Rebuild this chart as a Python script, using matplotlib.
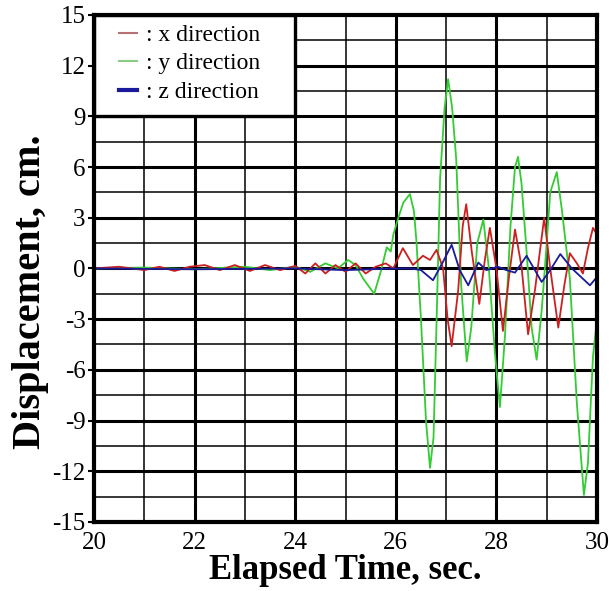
import numpy as np
import matplotlib
matplotlib.use("Agg")
import matplotlib.pyplot as plt
from matplotlib.patches import Rectangle

# values (time in sec, displacement in cm)
t_x = [20.0, 20.5, 21.0, 21.3, 21.6, 21.9, 22.2, 22.5, 22.8, 23.1, 23.4, 23.7,
       24.0, 24.2, 24.4, 24.6, 24.8, 25.0, 25.2, 25.4, 25.6, 25.8, 25.95, 26.14,
       26.34, 26.54, 26.68, 26.81, 26.94, 27.03, 27.11, 27.24, 27.33, 27.40,
       27.51, 27.66, 27.77, 27.87, 28.0, 28.13, 28.25, 28.37, 28.5, 28.63,
       28.77, 28.95, 29.07, 29.23, 29.35, 29.46, 29.6, 29.72, 29.82, 29.92, 30.0]
d_x = [0.0, 0.1, -0.1, 0.1, -0.15, 0.1, 0.2, -0.1, 0.2, -0.15, 0.2, -0.1,
       0.15, -0.3, 0.3, -0.3, 0.2, -0.2, 0.3, -0.3, 0.1, 0.3, 0.0, 1.2,
       0.2, 0.75, 0.5, 1.1, 0.0, -3.0, -4.6, -1.3, 2.5, 3.8,
       1.0, -2.1, 0.5, 2.4, 0.0, -3.7, -0.5, 2.3, 0.1, -3.9,
       -1.2, 3.0, 0.0, -3.5, -1.0, 0.9, 0.3, -0.3, 1.2, 2.4, 2.0]

t_y = [20.0, 21.0, 22.0, 23.0, 23.5, 24.0, 24.3, 24.6, 24.85, 25.05, 25.2,
       25.35, 25.57, 25.7, 25.82, 25.9, 25.95, 26.05, 26.15, 26.28, 26.36,
       26.41, 26.5, 26.6, 26.68, 26.75, 26.82, 26.88, 26.97, 27.04, 27.12,
       27.2, 27.3, 27.41, 27.5, 27.62, 27.74, 27.85, 27.97, 28.07, 28.17,
       28.28, 28.37, 28.43, 28.5, 28.6, 28.7, 28.8, 28.9, 29.0, 29.07, 29.2,
       29.3, 29.46, 29.6, 29.74, 29.82, 29.92, 30.0]
d_y = [0.0, 0.05, -0.05, 0.1, -0.1, 0.1, -0.2, 0.3, 0.0, 0.5, 0.2,
       -0.6, -1.5, -0.2, 1.25, 1.0, 2.0, 3.0, 3.9, 4.4, 3.4,
       1.6, -3.0, -9.0, -11.8, -10.0, -2.0, 5.3, 9.5, 11.2, 9.5,
       6.5, -1.0, -5.5, -3.5, 1.5, 2.9, 0.0, -5.0, -8.2, -4.0,
       2.5, 6.0, 6.6, 5.0, 1.0, -3.5, -5.4, -2.5, 1.5, 4.5, 5.7,
       3.5, -0.6, -8.0, -13.4, -11.5, -5.2, -3.0]

t_z = [20.0, 22.0, 24.0, 25.0, 26.0, 26.3, 26.5, 26.74, 26.94, 27.11, 27.27,
       27.44, 27.64, 27.8, 28.03, 28.2, 28.37, 28.6, 28.9, 29.07, 29.27,
       29.5, 29.86, 30.0]
d_z = [0.0, -0.05, 0.0, -0.1, 0.0, 0.0, -0.1, -0.7, 0.4, 1.4, -0.1,
       -1.0, 0.35, -0.1, 0.1, -0.1, -0.25, 0.75, -0.8, -0.1, 0.85,
       0.0, -1.0, -0.5]

xticks = [20, 22, 24, 26, 28, 30]
yticks = [-15, -12, -9, -6, -3, 0, 3, 6, 9, 12, 15]

plt.rcParams['font.family'] = ['Liberation Serif', 'DejaVu Serif']
plt.rcParams['axes.unicode_minus'] = False

fig = plt.figure(figsize=(6.09, 5.91), dpi=100)
ax = fig.add_axes([0.1544, 0.1168, 0.8259, 0.858])

# grid: thin every 1 s / 1.5 cm, thick on the labelled values
for v in np.arange(21, 30, 2):
    ax.axvline(v, color='black', lw=1.1, zorder=1)
for v in xticks[1:-1]:
    ax.axvline(v, color='black', lw=2.2, zorder=1)
for v in np.arange(-13.5, 15, 3):
    ax.axhline(v, color='black', lw=1.1, zorder=1)
for v in yticks[1:-1]:
    ax.axhline(v, color='black', lw=2.2, zorder=1)

ax.plot(t_x, d_x, color='#cc2020', lw=1.3, zorder=3)
ax.plot(t_y, d_y, color='#33cc33', lw=1.3, zorder=2)
ax.plot(t_z, d_z, color='#1a1a9c', lw=1.3, zorder=4)

# legend box sits on the top-left grid cells
ax.add_patch(Rectangle((20, 9), 4, 6, facecolor='white', edgecolor='black',
                       lw=2.4, zorder=5))
h1, = ax.plot([], [], color='#b87070', lw=1.5)
h2, = ax.plot([], [], color='#88cc88', lw=1.5)
h3, = ax.plot([], [], color='#1a1a9c', lw=3)
leg = ax.legend([h1, h2, h3], [': x direction', ': y direction', ': z direction'],
                loc='upper left', bbox_to_anchor=(0.03, 1.0), frameon=False,
                handlelength=0.8, handletextpad=0.35, labelspacing=0.3,
                fontsize=17, borderaxespad=0.0)
leg.set_zorder(6)

ax.set_xlim(20, 30)
ax.set_ylim(-15, 15)
ax.set_xticks(xticks)
ax.set_yticks(yticks)
ax.tick_params(axis='both', labelsize=18, width=1.5)
ax.tick_params(axis='x', length=0, pad=7)
ax.tick_params(axis='y', length=4, pad=2)
for s in ax.spines.values():
    s.set_linewidth(3)
    s.set_zorder(7)

ax.set_xlabel('Elapsed Time, sec.', fontsize=25, fontweight='bold', labelpad=0)
ax.set_ylabel('Displacement, cm.', fontsize=29, fontweight='bold')
ax.yaxis.set_label_coords(-0.09, 0.455)

fig.savefig('out.png', dpi=100)
